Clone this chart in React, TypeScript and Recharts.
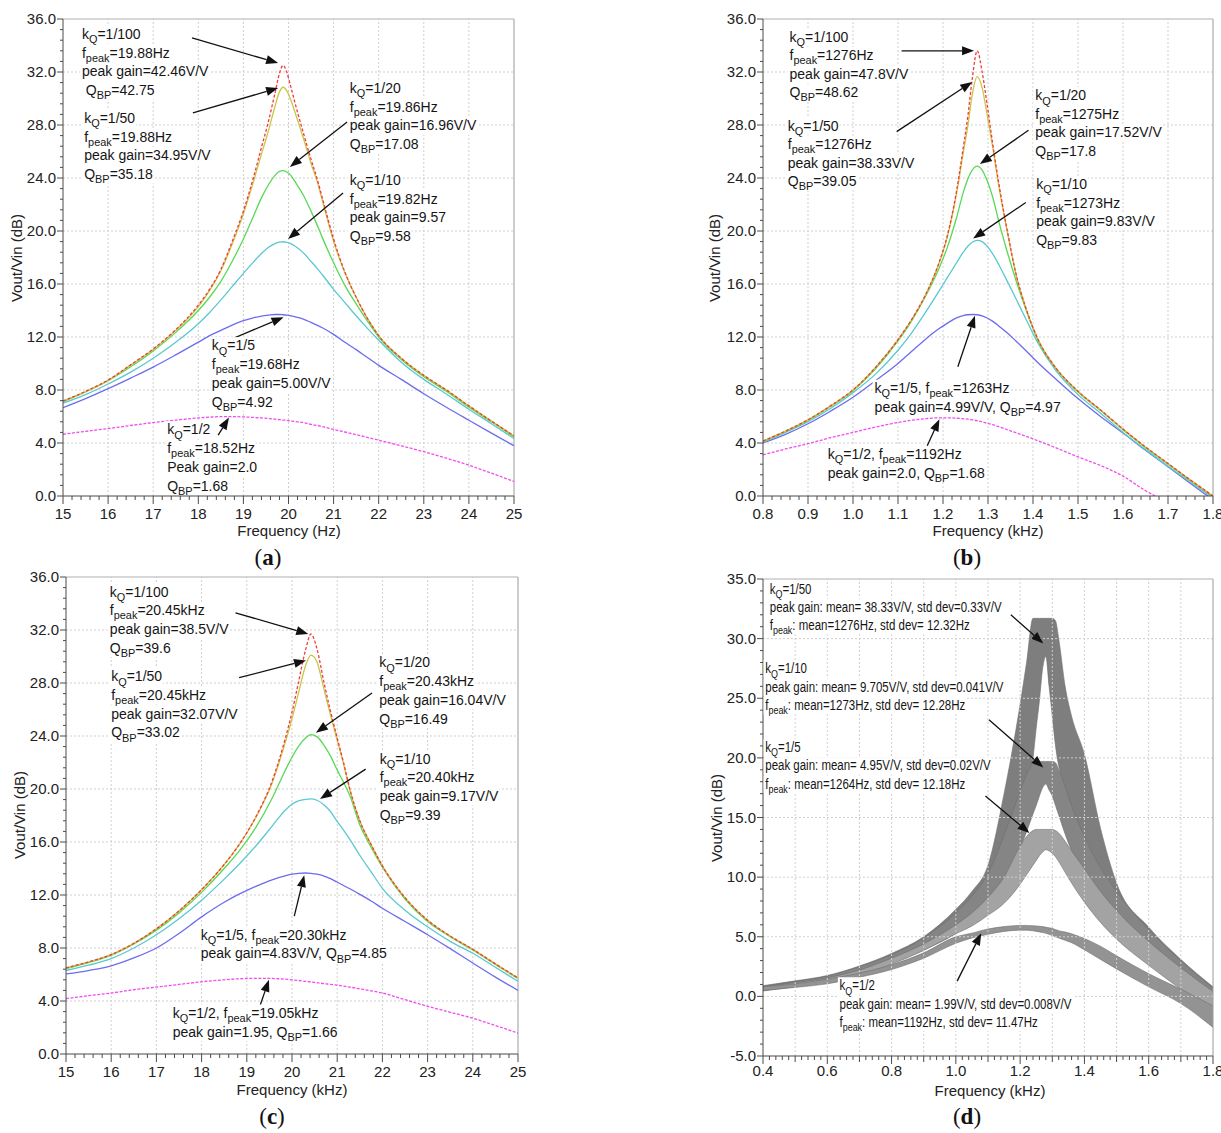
import React from "react";
import {
  LineChart,
  ComposedChart,
  Line,
  Area,
  XAxis,
  YAxis,
  ReferenceLine,
  ReferenceDot,
} from "recharts";

const FONT = "'Liberation Sans', Arial, sans-serif";
const SERIF = "'Liberation Serif', 'Times New Roman', serif";

// ---------- panel (a): frequency in Hz ----------
const A_FREQ = [15, 15.5, 16, 16.5, 17, 17.5, 18, 18.25, 18.5, 18.75, 19, 19.22, 19.4, 19.55, 19.7, 19.8, 19.88, 19.96, 20.05, 20.15, 20.33, 20.5, 20.63, 20.75, 21, 21.25, 21.5, 21.75, 22, 22.5, 23, 23.5, 24, 24.5, 25];
const A_K100 = [7.17, 7.9, 8.75, 9.9, 11.1, 12.55, 14.4, 15.6, 17.1, 19.2, 21.5, 24.0, 26.3, 28.2, 30.4, 31.9, 32.5, 32.0, 30.9, 29.6, 27.4, 25.4, 24.0, 22.5, 19.4, 16.9, 15.0, 13.4, 12.1, 10.4, 9.1, 8.0, 6.8, 5.65, 4.54];
const A_K50 = [7.15, 7.88, 8.73, 9.88, 11.05, 12.5, 14.3, 15.5, 17.0, 19.0, 21.3, 23.7, 25.8, 27.5, 29.4, 30.5, 30.85, 30.6, 29.9, 28.9, 27.0, 25.1, 23.8, 22.3, 19.2, 16.85, 15.0, 13.4, 12.1, 10.4, 9.1, 8.0, 6.8, 5.65, 4.54];
const A_K20 = [7.1, 7.85, 8.7, 9.75, 10.95, 12.35, 14.0, 15.0, 16.2, 17.7, 19.4, 21.1, 22.5, 23.45, 24.2, 24.5, 24.55, 24.45, 24.2, 23.7, 22.7, 21.5, 20.5, 19.5, 17.6, 15.9, 14.5, 13.2, 12.0, 10.3, 9.0, 7.9, 6.7, 5.6, 4.46];
const A_K10 = [7.0, 7.65, 8.45, 9.35, 10.4, 11.6, 13.0, 13.85, 14.8, 15.8, 16.8, 17.65, 18.3, 18.75, 19.05, 19.16, 19.19, 19.15, 19.05, 18.85, 18.35, 17.7, 17.2, 16.7, 15.6, 14.6, 13.6, 12.65, 11.75, 10.1, 8.8, 7.7, 6.55, 5.45, 4.34];
const A_K5 = [6.67, 7.35, 8.1, 8.9, 9.73, 10.65, 11.61, 12.1, 12.5, 12.9, 13.24, 13.45, 13.58, 13.65, 13.7, 13.7, 13.68, 13.65, 13.6, 13.52, 13.35, 13.1, 12.9, 12.7, 12.2, 11.6, 11.05, 10.45, 9.86, 8.8, 7.72, 6.7, 5.72, 4.75, 3.79];
const A_K2 = [4.66, 4.88, 5.09, 5.32, 5.54, 5.73, 5.89, 5.95, 5.99, 5.99, 5.97, 5.93, 5.89, 5.85, 5.8, 5.76, 5.73, 5.71, 5.67, 5.62, 5.53, 5.4, 5.32, 5.24, 5.02, 4.83, 4.63, 4.42, 4.21, 3.79, 3.34, 2.85, 2.33, 1.72, 1.10];

// ---------- panel (b): frequency in kHz ----------
const B_FREQ = [0.8, 0.85, 0.9, 0.95, 1.0, 1.05, 1.1, 1.13, 1.16, 1.19, 1.21, 1.23, 1.245, 1.255, 1.265, 1.276, 1.287, 1.297, 1.31, 1.325, 1.343, 1.362, 1.385, 1.41, 1.45, 1.5, 1.55, 1.6, 1.65, 1.7, 1.75, 1.8];
const B_K100 = [4.15, 4.9, 5.75, 6.8, 8.0, 9.7, 11.8, 13.3, 15.1, 17.5, 19.7, 23.0, 26.3, 28.6, 31.5, 33.6, 32.0, 29.8, 26.7, 23.4, 20.0, 16.8, 14.1, 11.9, 9.7, 7.9, 6.5, 5.05, 3.7, 2.45, 1.2, 0.0];
const B_K50 = [4.15, 4.9, 5.75, 6.8, 8.0, 9.7, 11.8, 13.3, 15.1, 17.45, 19.6, 22.8, 25.9, 27.9, 30.3, 31.65, 30.8, 29.0, 26.4, 23.2, 19.9, 16.75, 14.1, 11.9, 9.7, 7.9, 6.5, 5.05, 3.7, 2.45, 1.2, 0.0];
const B_K20 = [4.1, 4.85, 5.7, 6.75, 7.95, 9.6, 11.7, 13.2, 15.0, 17.1, 18.8, 21.0, 22.9, 23.9, 24.6, 24.9, 24.6, 23.9, 22.6, 20.6, 18.4, 16.3, 14.0, 11.8, 9.65, 7.85, 6.45, 5.0, 3.65, 2.4, 1.15, -0.05];
const B_K10 = [4.05, 4.8, 5.6, 6.6, 7.8, 9.2, 11.0, 12.3, 13.8, 15.4, 16.5, 17.6, 18.4, 18.85, 19.15, 19.3, 19.2, 18.9, 18.3, 17.4, 16.2, 14.9, 13.3, 11.6, 9.5, 7.65, 6.25, 4.8, 3.5, 2.25, 1.05, -0.15];
const B_K5 = [4.0, 4.65, 5.45, 6.4, 7.45, 8.7, 10.0, 10.9, 11.8, 12.6, 13.05, 13.45, 13.62, 13.68, 13.7, 13.68, 13.6, 13.45, 13.2, 12.8, 12.3, 11.7, 10.95, 10.1, 8.85, 7.35, 6.0, 4.75, 3.45, 2.2, 0.95, -0.3];
const B_K2 = [3.1, 3.55, 3.95, 4.4, 4.8, 5.2, 5.55, 5.72, 5.83, 5.9, 5.9, 5.87, 5.83, 5.8, 5.75, 5.68, 5.6, 5.5, 5.38, 5.22, 5.0, 4.78, 4.5, 4.18, 3.65, 2.95, 2.3, 1.5, 0.4, -0.5, -1.4, -2.2];

// ---------- panel (c): frequency in kHz ----------
const C_FREQ = [15, 15.5, 16, 16.5, 17, 17.5, 18, 18.5, 18.85, 19.2, 19.56, 19.85, 20.0, 20.14, 20.3, 20.42, 20.55, 20.71, 20.85, 20.99, 21.14, 21.28, 21.5, 21.75, 22, 22.5, 23, 23.5, 24, 24.5, 25];
const C_K100 = [6.5, 6.95, 7.5, 8.35, 9.45, 10.8, 12.4, 14.3, 15.9, 17.9, 20.6, 23.8, 25.8, 28.0, 30.5, 31.7, 30.6, 28.0, 25.9, 24.0, 22.0, 20.0, 17.6, 15.8, 14.2, 11.8, 10.1, 8.9, 7.9, 6.8, 5.74];
const C_K50 = [6.5, 6.95, 7.5, 8.35, 9.45, 10.8, 12.4, 14.3, 15.9, 17.85, 20.45, 23.5, 25.3, 27.2, 29.3, 30.1, 29.6, 27.5, 25.6, 23.8, 21.9, 19.9, 17.6, 15.8, 14.2, 11.8, 10.1, 8.9, 7.9, 6.8, 5.74];
const C_K20 = [6.45, 6.9, 7.45, 8.3, 9.35, 10.65, 12.2, 14.0, 15.4, 17.1, 19.3, 21.4, 22.4, 23.2, 23.85, 24.1, 23.95, 23.3, 22.5, 21.5, 20.5, 19.5, 17.3, 15.6, 14.1, 11.7, 10.0, 8.85, 7.85, 6.75, 5.7];
const C_K10 = [6.3, 6.7, 7.2, 8.0, 9.0, 10.2, 11.6, 13.2, 14.4, 15.7, 17.2, 18.4, 18.85, 19.1, 19.22, 19.25, 19.15, 18.8, 18.3, 17.6, 16.9, 16.2, 15.0, 13.75, 12.5, 10.85, 9.6, 8.5, 7.6, 6.55, 5.48];
const C_K5 = [6.04, 6.3, 6.65, 7.25, 8.0, 9.1, 10.35, 11.45, 12.1, 12.65, 13.15, 13.45, 13.57, 13.63, 13.66, 13.63, 13.57, 13.43, 13.24, 12.98, 12.72, 12.47, 12.05, 11.55, 11.0, 10.0, 9.0, 7.95, 6.87, 5.8, 4.8];
const C_K2 = [4.18, 4.4, 4.6, 4.85, 5.05, 5.25, 5.45, 5.6, 5.68, 5.71, 5.7, 5.65, 5.6, 5.55, 5.48, 5.43, 5.38, 5.31, 5.26, 5.2, 5.13, 5.05, 4.92, 4.77, 4.6, 4.1, 3.6, 3.15, 2.7, 2.15, 1.58];

// ---------- panel (d): Monte Carlo bands, low / high edge ----------
const D_FREQ = [0.4, 0.5, 0.6, 0.7, 0.8, 0.9, 1.0, 1.05, 1.1, 1.15, 1.2, 1.22, 1.24, 1.25, 1.26, 1.27, 1.28, 1.29, 1.3, 1.31, 1.32, 1.34, 1.36, 1.4, 1.45, 1.5, 1.6, 1.7, 1.8];
const D_K50_LO = [0.5, 0.9, 1.35, 2.0, 2.9, 4.0, 5.5, 6.5, 7.8, 11.0, 16.0, 18.0, 20.0, 22.5, 24.8, 27.5, 28.5, 26.0, 23.5, 21.0, 19.3, 17.2, 15.0, 11.5, 8.6, 6.0, 3.0, 1.0, -1.3];
const D_K50_HI = [0.9, 1.3, 1.75, 2.55, 3.6, 5.0, 7.3, 8.8, 11.0, 17.0, 24.5, 28.0, 31.7, 31.7, 31.7, 31.7, 31.7, 31.7, 31.7, 31.5, 30.0, 26.0, 23.5, 20.3, 14.1, 9.5, 5.8, 3.1, 0.8];
const D_K10_LO = [0.5, 0.9, 1.3, 1.95, 2.85, 3.9, 5.3, 6.3, 7.5, 9.6, 12.4, 13.8, 15.3, 16.0, 16.8, 17.5, 17.8, 17.3, 16.8, 16.0, 15.2, 13.6, 12.2, 10.0, 8.0, 6.4, 3.6, 1.2, -1.0];
const D_K10_HI = [0.85, 1.25, 1.7, 2.5, 3.5, 4.9, 7.0, 8.4, 10.3, 13.5, 17.2, 18.6, 19.5, 19.7, 19.7, 19.7, 19.7, 19.7, 19.7, 19.6, 19.0, 17.6, 16.0, 13.4, 10.8, 8.8, 5.6, 3.0, 0.7];
const D_K5_LO = [0.45, 0.8, 1.2, 1.75, 2.7, 3.85, 5.25, 5.9, 6.8, 7.8, 9.4, 10.2, 11.0, 11.4, 11.8, 12.1, 12.3, 12.2, 12.0, 11.7, 11.3, 10.4, 9.5, 7.9, 6.2, 4.8, 2.6, 0.6, -1.3];
const D_K5_HI = [0.8, 1.15, 1.55, 2.2, 3.2, 4.4, 6.0, 7.0, 8.3, 10.0, 12.6, 13.4, 13.9, 14.0, 14.0, 14.0, 14.0, 14.0, 14.0, 13.9, 13.7, 13.0, 12.2, 10.7, 8.8, 7.2, 4.6, 2.4, 0.4];
const D_K2_LO = [0.5, 0.75, 1.05, 1.6, 2.25, 3.2, 4.45, 4.9, 5.2, 5.45, 5.55, 5.55, 5.5, 5.45, 5.4, 5.35, 5.3, 5.2, 5.1, 5.0, 4.9, 4.7, 4.5, 3.9, 3.1, 2.3, 0.8, -0.6, -2.6];
const D_K2_HI = [0.8, 1.05, 1.45, 1.95, 2.65, 3.65, 5.0, 5.3, 5.65, 5.85, 5.95, 5.95, 5.92, 5.9, 5.88, 5.85, 5.8, 5.75, 5.7, 5.6, 5.5, 5.4, 5.25, 4.85, 4.2, 3.4, 1.9, 0.6, -0.8];

// tick labels
const A_XTICKS = [15, 16, 17, 18, 19, 20, 21, 22, 23, 24, 25];
const B_XTICKS = [0.8, 0.9, 1.0, 1.1, 1.2, 1.3, 1.4, 1.5, 1.6, 1.7, 1.8];
const D_XTICKS = [0.4, 0.6, 0.8, 1.0, 1.2, 1.4, 1.6, 1.8];
const Y_TICKS = [0, 4, 8, 12, 16, 20, 24, 28, 32, 36];
const D_YTICKS = [-5, 0, 5, 10, 15, 20, 25, 30, 35];

const RED = "#f23c3c";
const YELLOW = "#c9c646";
const GREEN = "#57d957";
const CYAN = "#5ac8d2";
const BLUE = "#6c6cee";
const PINK = "#f04cf0";
const AXIS = "#4a4a4a";
const GRID = "#cfcfcf";

const range = (a: number, b: number, step: number) => {
  const n = Math.round((b - a) / step);
  const out: number[] = [];
  for (let i = 0; i <= n; i++) out.push(+(a + i * step).toFixed(4));
  return out;
};
const near = (arr: number[], v: number) => arr.some((m) => Math.abs(m - v) < 1e-6);

const rowsOf = (freq: number[], cols: Record<string, number[]>) =>
  freq.map((f, i) => {
    const r: any = { f };
    Object.keys(cols).forEach((k) => (r[k] = cols[k][i]));
    return r;
  });

const rowsA = rowsOf(A_FREQ, { k100: A_K100, k50: A_K50, k20: A_K20, k10: A_K10, k5: A_K5, k2: A_K2 });
const rowsB = rowsOf(B_FREQ, { k100: B_K100, k50: B_K50, k20: B_K20, k10: B_K10, k5: B_K5, k2: B_K2 });
const rowsC = rowsOf(C_FREQ, { k100: C_K100, k50: C_K50, k20: C_K20, k10: C_K10, k5: C_K5, k2: C_K2 });
const rowsD = D_FREQ.map((f, i) => ({
  f,
  b50: [D_K50_LO[i], D_K50_HI[i]],
  b10: [D_K10_LO[i], D_K10_HI[i]],
  b5: [D_K5_LO[i], D_K5_HI[i]],
  b2: [D_K2_LO[i], D_K2_HI[i]],
}));

// ---------- ticks ----------
function XTick(props: any) {
  const { x, y, payload, majors, mids, fmt, labelDy } = props;
  const v = payload.value;
  const major = near(majors, v);
  const len = major ? 8 : mids && near(mids, v) ? 6 : 4;
  return (
    <g>
      <line x1={x} y1={y} x2={x} y2={y + len} stroke={AXIS} strokeWidth={1} />
      {major && (
        <text x={x} y={y + (labelDy ?? 23)} textAnchor="middle" fontSize={15} fontFamily={FONT} fill="#222">
          {fmt(v)}
        </text>
      )}
    </g>
  );
}

function YTick(props: any) {
  const { x, y, payload, majors } = props;
  const v = payload.value;
  const major = near(majors, v);
  return (
    <g>
      <line x1={x - (major ? 6 : 3)} y1={y} x2={x} y2={y} stroke={AXIS} strokeWidth={1} />
      {major && (
        <text x={x - 7} y={y + 5} textAnchor="end" fontSize={15} fontFamily={FONT} fill="#222">
          {v.toFixed(1)}
        </text>
      )}
    </g>
  );
}

// ---------- annotations ----------
const CW: Record<string, number> = {
  ".": 0.278, ",": 0.278, ":": 0.278, " ": 0.278, "\u00a0": 0.278, "=": 0.584, "/": 0.278, "-": 0.333,
  V: 0.667, Q: 0.778, B: 0.667, P: 0.667, H: 0.722, f: 0.278, i: 0.222, l: 0.222, m: 0.833,
  r: 0.333, t: 0.278, k: 0.5, z: 0.5, c: 0.5, s: 0.5, v: 0.5, y: 0.5,
};

function segs(s: string) {
  const out: { t: string; sub: boolean }[] = [];
  const re = /_\{([^}]*)\}/g;
  let last = 0;
  let m: RegExpExecArray | null;
  while ((m = re.exec(s))) {
    if (m.index > last) out.push({ t: s.slice(last, m.index), sub: false });
    out.push({ t: m[1], sub: true });
    last = re.lastIndex;
  }
  if (last < s.length) out.push({ t: s.slice(last), sub: false });
  return out;
}

const widthOf = (sg: { t: string; sub: boolean }[], fs: number) =>
  sg.reduce((w, s) => {
    let u = 0;
    for (const c of s.t) u += CW[c] ?? 0.556;
    return w + u * (s.sub ? fs * 0.78 : fs);
  }, 0);

type Note = { x: number; y: number; lines: string[]; lh?: number; sx?: number };

const noteShape = (n: Note) => (p: any) => {
  const { cx, cy } = p;
  const fs = 14;
  const lh = n.lh ?? 18.7;
  const sx = n.sx ?? 1;
  const parsed = n.lines.map(segs);
  return (
    <g transform={`translate(${cx},${cy}) scale(${sx},1)`}>
      {parsed.map((sg, i) => (
        <rect key={"r" + i} x={-2} y={i * lh - lh / 2 + 1} width={widthOf(sg, fs) + 3} height={lh - 1} fill="#fff" />
      ))}
      {parsed.map((sg, i) => {
        let cur = 0;
        return (
          <text key={i} x={0} y={i * lh + 5} fontSize={fs} fontFamily={FONT} fill="#151515">
            {sg.map((s, j) => {
              const target = s.sub ? fs * 0.3 : 0;
              const dy = target - cur;
              cur = target;
              return (
                <tspan key={j} dy={dy} fontSize={s.sub ? fs * 0.78 : fs}>
                  {s.t}
                </tspan>
              );
            })}
          </text>
        );
      })}
    </g>
  );
};

const arrowShape = (p: any) => {
  const { x1, y1, x2, y2 } = p;
  const dx = x2 - x1;
  const dy = y2 - y1;
  const L = Math.hypot(dx, dy) || 1;
  const ux = dx / L;
  const uy = dy / L;
  const hl = 12;
  const hw = 4.5;
  const bx = x2 - ux * hl;
  const by = y2 - uy * hl;
  return (
    <g>
      <line x1={x1} y1={y1} x2={bx} y2={by} stroke="#111" strokeWidth={1.3} />
      <polygon points={`${x2},${y2} ${bx - uy * hw},${by + ux * hw} ${bx + uy * hw},${by - ux * hw}`} fill="#111" />
    </g>
  );
};

const A_NOTES: Note[] = [
  { x: 15.42, y: 34.87, lines: ["k_{Q}=1/100", "f_{peak}=19.88Hz", "peak gain=42.46V/V", "\u00a0Q_{BP}=42.75"] },
  { x: 15.47, y: 28.53, lines: ["k_{Q}=1/50", "f_{peak}=19.88Hz", "peak gain=34.95V/V", "Q_{BP}=35.18"] },
  { x: 21.36, y: 30.79, lines: ["k_{Q}=1/20", "f_{peak}=19.86Hz", "peak gain=16.96V/V", "Q_{BP}=17.08"] },
  { x: 21.36, y: 23.85, lines: ["k_{Q}=1/10", "f_{peak}=19.82Hz", "peak gain=9.57", "Q_{BP}=9.58"] },
  { x: 18.3, y: 11.36, lines: ["k_{Q}=1/5", "f_{peak}=19.68Hz", "peak gain=5.00V/V", "Q_{BP}=4.92"] },
  { x: 17.31, y: 5.02, lines: ["k_{Q}=1/2", "f_{peak}=18.52Hz", "Peak gain=2.0", "Q_{BP}=1.68"] },
];
const A_ARROWS = [
  [17.86, 34.57, 19.77, 32.68],
  [17.88, 28.91, 19.77, 30.79],
  [21.3, 28.23, 20.03, 24.83],
  [21.21, 22.87, 19.99, 19.4],
  [18.61, 11.66, 19.89, 13.49],
  [18.44, 4.59, 18.68, 5.92],
];

const B_NOTES: Note[] = [
  { x: 0.859, y: 34.66, lh: 18.5, lines: ["k_{Q}=1/100", "f_{peak}=1276Hz", "peak gain=47.8V/V", "Q_{BP}=48.62"] },
  { x: 0.855, y: 27.96, lh: 18.5, lines: ["k_{Q}=1/50", "f_{peak}=1276Hz", "peak gain=38.33V/V", "Q_{BP}=39.05"] },
  { x: 1.405, y: 30.24, lh: 18.5, lines: ["k_{Q}=1/20", "f_{peak}=1275Hz", "peak gain=17.52V/V", "Q_{BP}=17.8"] },
  { x: 1.407, y: 23.54, lh: 18.5, lines: ["k_{Q}=1/10", "f_{peak}=1273Hz", "peak gain=9.83V/V", "Q_{BP}=9.83"] },
  { x: 1.048, y: 8.15, lh: 18.5, lines: ["k_{Q}=1/5, f_{peak}=1263Hz", "peak gain=4.99V/V, Q_{BP}=4.97"] },
  { x: 0.944, y: 3.15, lh: 18.5, lines: ["k_{Q}=1/2, f_{peak}=1192Hz", "peak gain=2.0, Q_{BP}=1.68"] },
];
const B_ARROWS = [
  [1.108, 33.6, 1.269, 33.6],
  [1.097, 27.5, 1.265, 31.25],
  [1.39, 27.6, 1.282, 25.05],
  [1.384, 22.15, 1.267, 19.44],
  [1.233, 9.75, 1.271, 13.6],
  [1.165, 3.8, 1.192, 5.8],
];

const C_NOTES: Note[] = [
  { x: 15.97, y: 34.9, lines: ["k_{Q}=1/100", "f_{peak}=20.45kHz", "peak gain=38.5V/V", "Q_{BP}=39.6"] },
  { x: 16.0, y: 28.5, lines: ["k_{Q}=1/50", "f_{peak}=20.45kHz", "peak gain=32.07V/V", "Q_{BP}=33.02"] },
  { x: 21.93, y: 29.55, lines: ["k_{Q}=1/20", "f_{peak}=20.43kHz", "peak gain=16.04V/V", "Q_{BP}=16.49"] },
  { x: 21.94, y: 22.3, lines: ["k_{Q}=1/10", "f_{peak}=20.40kHz", "peak gain=9.17V/V", "Q_{BP}=9.39"] },
  { x: 17.98, y: 9.0, lines: ["k_{Q}=1/5, f_{peak}=20.30kHz", "peak gain=4.83V/V, Q_{BP}=4.85"] },
  { x: 17.36, y: 3.1, lines: ["k_{Q}=1/2, f_{peak}=19.05kHz", "peak gain=1.95, Q_{BP}=1.66"] },
];
const C_ARROWS = [
  [18.75, 33.3, 20.36, 31.7],
  [18.83, 28.4, 20.31, 29.7],
  [21.77, 27.25, 20.53, 24.25],
  [21.63, 21.5, 20.62, 19.25],
  [20.05, 10.4, 20.27, 13.5],
  [19.3, 3.72, 19.49, 5.6],
];

const D_NOTES: Note[] = [
  { x: 0.421, y: 34.2, lh: 18.3, sx: 0.82, lines: ["k_{Q}=1/50", "peak gain: mean= 38.33V/V, std dev=0.33V/V", "f_{peak}: mean=1276Hz, std dev= 12.32Hz"] },
  { x: 0.407, y: 27.5, lh: 18.3, sx: 0.82, lines: ["k_{Q}=1/10", "peak gain: mean= 9.705V/V, std dev=0.041V/V", "f_{peak}: mean=1273Hz, std dev= 12.28Hz"] },
  { x: 0.407, y: 20.9, lh: 18.3, sx: 0.82, lines: ["k_{Q}=1/5", "peak gain: mean= 4.95V/V, std dev=0.02V/V", "f_{peak}: mean=1264Hz, std dev= 12.18Hz"] },
  { x: 0.638, y: 0.92, lh: 18.3, sx: 0.82, lines: ["k_{Q}=1/2", "peak gain: mean= 1.99V/V, std dev=0.008V/V", "f_{peak}: mean=1192Hz, std dev= 11.47Hz"] },
];
const D_ARROWS = [
  [1.171, 32.0, 1.272, 29.6],
  [1.103, 23.2, 1.272, 19.2],
  [1.092, 16.8, 1.229, 13.7],
  [1.004, 1.28, 1.079, 5.3],
];

const SERIES = [
  { key: "k2", color: PINK, dash: "3 1.5" },
  { key: "k5", color: BLUE },
  { key: "k10", color: CYAN },
  { key: "k20", color: GREEN },
  { key: "k50", color: YELLOW },
  { key: "k100", color: RED, dash: "3 2" },
];

type PanelCfg = {
  left: number;
  top: number;
  width: number;
  height: number;
  margin: { top: number; right: number; bottom: number; left: number };
  xDomain: [number, number];
  xMajor: number[];
  xMid?: number[];
  xMinor: number;
  xFmt: (v: number) => string;
  labelDy?: number;
  yDomain: [number, number];
  yMajor: number[];
  yMinor: number;
  xGrid: number[];
  yGrid: number[];
  notes: Note[];
  arrows: number[][];
};

function decorations(c: PanelCfg) {
  return [
    ...c.xGrid.map((v) => <ReferenceLine key={"gx" + v} x={v} stroke={GRID} strokeDasharray="2 2" />),
    ...c.yGrid.map((v) => <ReferenceLine key={"gy" + v} y={v} stroke={GRID} strokeDasharray="2 2" />),
    <ReferenceLine key="fx" x={c.xDomain[1]} stroke="#9a9a9a" />,
    <ReferenceLine key="fy" y={c.yDomain[1]} stroke="#b0b0b0" />,
    ...c.notes.map((n, i) => <ReferenceDot key={"n" + i} x={n.x} y={n.y} r={2} shape={noteShape(n)} />),
  ];
}

function arrowsOf(c: PanelCfg) {
  return c.arrows.map((a, i) => (
    <ReferenceLine
      key={"a" + i}
      segment={[
        { x: a[0], y: a[1] },
        { x: a[2], y: a[3] },
      ]}
      shape={arrowShape}
    />
  ));
}

function axes(c: PanelCfg) {
  return [
    <XAxis
      key="x"
      type="number"
      dataKey="f"
      domain={c.xDomain}
      allowDataOverflow
      ticks={range(c.xDomain[0], c.xDomain[1], c.xMinor)}
      interval={0}
      tickLine={false}
      tickSize={0}
      tickMargin={0}
      height={30}
      axisLine={{ stroke: AXIS }}
      tick={<XTick majors={c.xMajor} mids={c.xMid} fmt={c.xFmt} labelDy={c.labelDy} />}
    />,
    <YAxis
      key="y"
      type="number"
      domain={c.yDomain}
      allowDataOverflow
      ticks={range(c.yDomain[0], c.yDomain[1], c.yMinor)}
      interval={0}
      tickLine={false}
      tickSize={0}
      tickMargin={0}
      width={50}
      axisLine={{ stroke: AXIS }}
      tick={<YTick majors={c.yMajor} />}
    />,
  ];
}

function CurvePanel({ cfg, data }: { cfg: PanelCfg; data: any[] }) {
  return (
    <div style={{ position: "absolute", left: cfg.left, top: cfg.top }}>
      <LineChart width={cfg.width} height={cfg.height} data={data} margin={cfg.margin}>
        {axes(cfg)}
        {decorations(cfg)}
        {SERIES.map((s) => (
          <Line
            key={s.key}
            type="monotone"
            dataKey={s.key}
            stroke={s.color}
            strokeWidth={1.3}
            strokeDasharray={s.dash}
            dot={false}
            activeDot={false}
            isAnimationActive={false}
          />
        ))}
        {arrowsOf(cfg)}
      </LineChart>
    </div>
  );
}

function BandPanel({ cfg, data }: { cfg: PanelCfg; data: any[] }) {
  const bands = [
    { key: "b50", fill: "#7e7e7e" },
    { key: "b10", fill: "#858585" },
    { key: "b5", fill: "#a3a3a3" },
    { key: "b2", fill: "#939393" },
  ];
  return (
    <div style={{ position: "absolute", left: cfg.left, top: cfg.top }}>
      <ComposedChart width={cfg.width} height={cfg.height} data={data} margin={cfg.margin}>
        {axes(cfg)}
        {decorations(cfg)}
        {bands.map((b) => (
          <Area
            key={b.key}
            type="monotone"
            dataKey={b.key}
            fill={b.fill}
            fillOpacity={1}
            stroke="#6f6f6f"
            strokeWidth={0.6}
            dot={false}
            activeDot={false}
            isAnimationActive={false}
          />
        ))}
        {arrowsOf(cfg)}
      </ComposedChart>
    </div>
  );
}

const hz = (v: number) => String(Math.round(v));
const khz = (v: number) => v.toFixed(1);

const CFG_A: PanelCfg = {
  left: 0, top: 0, width: 540, height: 540,
  margin: { top: 19, right: 26, bottom: 14, left: 13 },
  xDomain: [15, 25], xMajor: A_XTICKS, xMinor: 0.2, xFmt: hz,
  yDomain: [0, 36], yMajor: Y_TICKS, yMinor: 0.8,
  xGrid: A_XTICKS.slice(1, -1), yGrid: Y_TICKS.slice(1, -1),
  notes: A_NOTES, arrows: A_ARROWS,
};
const CFG_B: PanelCfg = {
  left: 700, top: 0, width: 521, height: 540,
  margin: { top: 19, right: 8, bottom: 14, left: 13 },
  xDomain: [0.8, 1.8], xMajor: B_XTICKS, xMinor: 0.02, xFmt: khz,
  yDomain: [0, 36], yMajor: Y_TICKS, yMinor: 0.8,
  xGrid: B_XTICKS.slice(1, -1), yGrid: Y_TICKS.slice(1, -1),
  notes: B_NOTES, arrows: B_ARROWS,
};
const CFG_C: PanelCfg = {
  left: 0, top: 557, width: 540, height: 545,
  margin: { top: 20, right: 22, bottom: 18, left: 16 },
  xDomain: [15, 25], xMajor: A_XTICKS, xMinor: 0.2, xFmt: hz,
  yDomain: [0, 36], yMajor: Y_TICKS, yMinor: 0.8,
  xGrid: A_XTICKS.slice(1, -1), yGrid: Y_TICKS.slice(1, -1),
  notes: C_NOTES, arrows: C_ARROWS,
};
const CFG_D: PanelCfg = {
  left: 700, top: 557, width: 521, height: 576,
  margin: { top: 22, right: 8, bottom: 47, left: 13 },
  xDomain: [0.4, 1.8], xMajor: D_XTICKS, xMid: range(0.5, 1.7, 0.2), xMinor: 0.02, xFmt: khz, labelDy: 20,
  yDomain: [-5, 35], yMajor: D_YTICKS, yMinor: 1,
  xGrid: range(0.5, 1.7, 0.1), yGrid: D_YTICKS.slice(1, -1),
  notes: D_NOTES, arrows: D_ARROWS,
};

function Label({ x, y, text, rotate }: { x: number; y: number; text: string; rotate?: boolean }) {
  return (
    <div
      style={{
        position: "absolute",
        left: x,
        top: y,
        transform: `translate(-50%, -50%)${rotate ? " rotate(-90deg)" : ""}`,
        fontFamily: FONT,
        fontSize: 15,
        color: "#222",
        whiteSpace: "nowrap",
      }}
    >
      {text}
    </div>
  );
}

function Tag({ x, y, letter }: { x: number; y: number; letter: string }) {
  return (
    <div
      style={{
        position: "absolute",
        left: x,
        top: y,
        transform: "translate(-50%, -50%)",
        fontFamily: SERIF,
        fontSize: 23,
        color: "#111",
      }}
    >
      (<b>{letter}</b>)
    </div>
  );
}

export default function App() {
  return (
    <div style={{ position: "absolute", left: 0, top: 0, width: 1221, height: 1133, background: "#fff", overflow: "hidden" }}>
      <CurvePanel cfg={CFG_A} data={rowsA} />
      <CurvePanel cfg={CFG_B} data={rowsB} />
      <CurvePanel cfg={CFG_C} data={rowsC} />
      <BandPanel cfg={CFG_D} data={rowsD} />

      <Label x={289} y={530} text="Frequency (Hz)" />
      <Label x={988} y={530} text="Frequency (kHz)" />
      <Label x={292} y={1089} text="Frequency (kHz)" />
      <Label x={990} y={1090} text="Frequency (kHz)" />
      <Label x={16} y={258} text="Vout/Vin (dB)" rotate />
      <Label x={714} y={258} text="Vout/Vin (dB)" rotate />
      <Label x={19} y={815} text="Vout/Vin (dB)" rotate />
      <Label x={716} y={818} text="Vout/Vin (dB)" rotate />

      <Tag x={268} y={558} letter="a" />
      <Tag x={967} y={558} letter="b" />
      <Tag x={272} y={1117} letter="c" />
      <Tag x={967} y={1117} letter="d" />
    </div>
  );
}
